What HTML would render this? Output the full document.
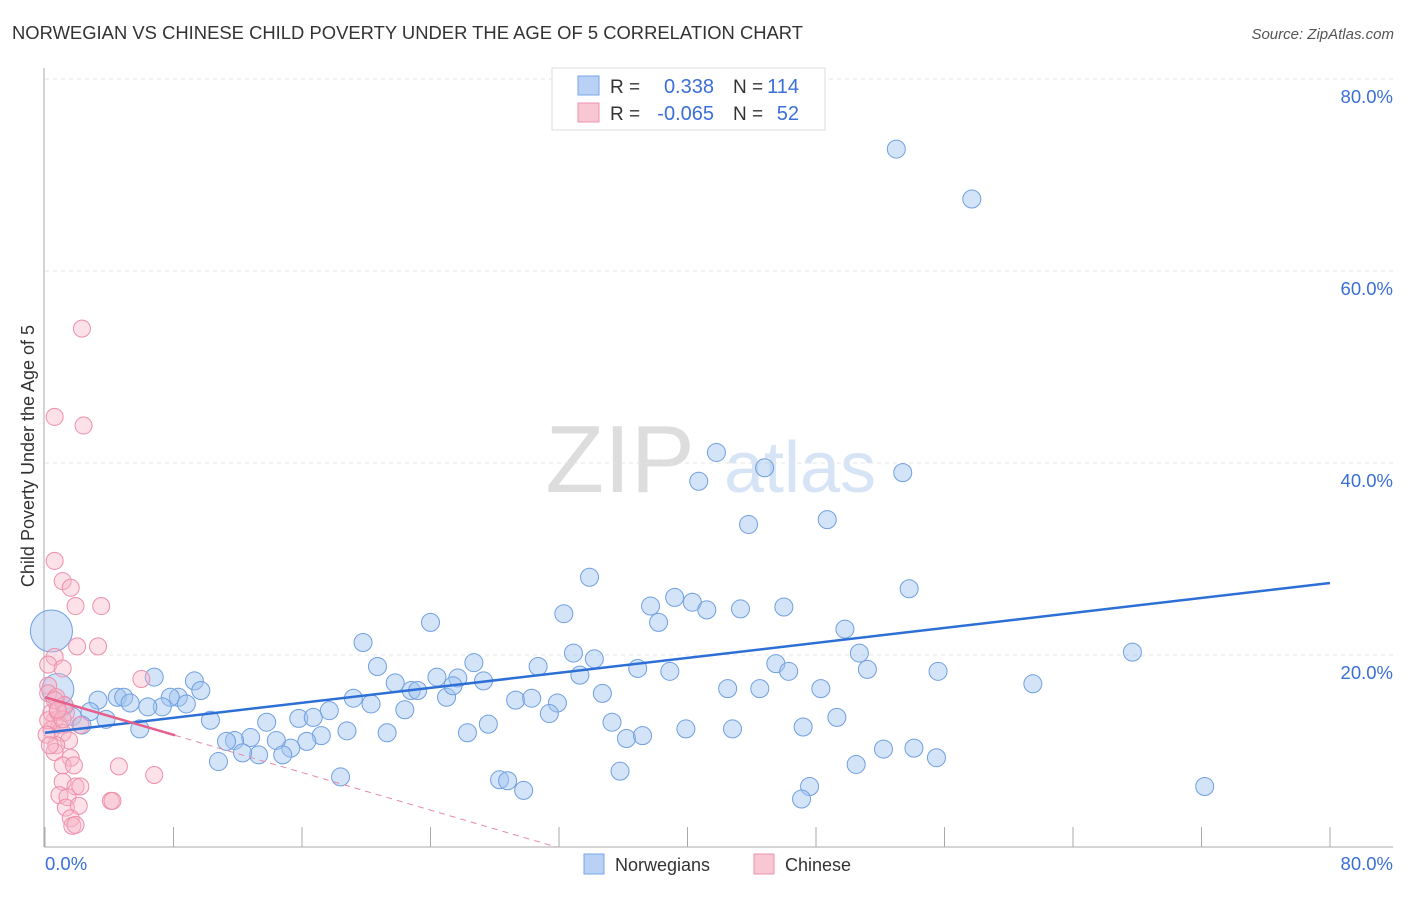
<!DOCTYPE html>
<html><head><meta charset="utf-8"><style>
body{margin:0;background:#fff;font-family:"Liberation Sans",sans-serif;}
svg text{font-family:"Liberation Sans",sans-serif;}
</style></head><body>
<svg id="chart" width="1406" height="892">
<text x="12" y="39" font-size="18.4" fill="#333" textLength="791">NORWEGIAN VS CHINESE CHILD POVERTY UNDER THE AGE OF 5 CORRELATION CHART</text>
<text x="1394" y="39" font-size="15" fill="#555" text-anchor="end" font-style="italic">Source: ZipAtlas.com</text>
<text x="620" y="492" font-size="96" fill="#ddd" font-family="Liberation Serif" text-anchor="middle">ZIP</text>
<text x="800" y="492" font-size="72" fill="#d6e4f5" text-anchor="middle">atlas</text>
<g id="grid"></g><g id="axes"></g><g id="pts"></g><g id="trend"></g>
<text transform="translate(34,456) rotate(-90)" font-size="18" fill="#333" text-anchor="middle">Child Poverty Under the Age of 5</text>
<g>
<rect x="552" y="68" width="273" height="62" fill="#fff" stroke="#ddd"/>
<rect x="578" y="76" width="21" height="19" fill="#b8d1f5" stroke="#7aa6e8"/>
<rect x="578" y="103" width="21" height="19" fill="#f9c6d4" stroke="#ee93ae"/>
<text x="610" y="93" font-size="19" fill="#333">R =</text><text x="714" y="93" font-size="20" fill="#3a6fd8" text-anchor="end">0.338</text>
<text x="733" y="93" font-size="19" fill="#333">N =</text><text x="799" y="93" font-size="20" fill="#3a6fd8" text-anchor="end">114</text>
<text x="610" y="120" font-size="19" fill="#333">R =</text><text x="714" y="120" font-size="20" fill="#3a6fd8" text-anchor="end">-0.065</text>
<text x="733" y="120" font-size="19" fill="#333">N =</text><text x="799" y="120" font-size="20" fill="#3a6fd8" text-anchor="end">52</text>
</g>
<g>
<rect x="584" y="854" width="20" height="20" fill="#b8d1f5" stroke="#7aa6e8"/>
<text x="615" y="871" font-size="18" fill="#333">Norwegians</text>
<rect x="754" y="854" width="20" height="20" fill="#f9c6d4" stroke="#ee93ae"/>
<text x="785" y="871" font-size="18" fill="#333">Chinese</text>
</g>
</svg>
<script>
const blueX=[53.0,57.7,41.8,44.8,53.4,40.7,43.8,48.7,33.9,53.8,37.7,39.2,40.3,41.2,43.3,46.0,38.2,32.3,24.0,49.8,19.8,32.9,34.2,36.9,38.9,45.5,50.7,51.2,55.6,67.7,61.5,20.7,24.4,25.7,26.7,27.3,30.7,33.3,34.7,21.8,22.8,23.2,25.0,25.4,19.2,20.3,22.4,29.3,30.3,31.9,31.4,15.8,16.7,17.7,13.8,10.3,35.3,42.5,44.5,46.3,48.3,49.3,47.2,39.9,42.8,36.2,37.2,27.6,26.3,18.8,21.3,17.2,16.3,15.3,14.4,12.8,11.8,11.3,14.8,13.3,12.3,10.8,18.4,28.3,28.8,29.8,35.8,47.6,47.1,50.5,52.2,54.1,55.5,72.2,6.8,9.3,9.7,8.3,7.8,8.8,7.3,6.4,4.5,4.9,5.3,3.3,2.8,3.8,1.7,2.3,5.9,1.2,0.8,0.4];
const blueY=[72.7,67.5,41.1,39.5,39.0,38.1,33.6,34.1,28.1,26.9,25.1,26.0,25.5,24.7,24.8,25.0,23.4,24.3,23.4,22.7,21.3,20.2,19.6,18.6,18.3,19.1,20.2,18.5,18.3,20.3,17.0,18.8,17.7,17.6,19.2,17.3,18.8,17.9,16.0,17.1,16.3,16.3,15.6,16.8,15.5,14.9,14.3,15.3,15.5,15.0,13.9,13.4,13.5,14.2,13.0,13.2,13.0,16.5,16.5,18.3,16.5,13.5,12.5,12.3,12.3,11.3,11.6,12.8,11.9,12.1,11.9,11.6,11.0,10.3,11.1,11.4,11.1,11.0,9.6,9.6,9.8,8.9,7.3,7.0,6.9,5.9,7.9,6.3,5.0,8.6,10.2,10.3,9.3,6.3,17.7,17.3,16.3,15.6,15.6,14.9,14.6,14.6,15.6,15.6,15.0,15.3,14.1,13.3,13.6,12.7,12.3,14.7,16.4,22.5];
const blueSize=blueX.map((_,i)=>i===blueX.length-1?3:(i===blueX.length-2?2:1));
const pinkX=[2.3,0.6,2.4,0.6,1.1,1.6,1.9,3.5,2.0,3.3,0.6,0.2,1.1,0.2,0.2,0.7,1.2,6.0,0.6,0.9,0.4,1.1,1.5,0.7,0.6,1.6,1.1,1.8,4.6,6.8,1.1,1.9,2.2,0.9,1.4,4.1,4.2,1.3,2.1,1.6,1.7,1.9,0.4,0.2,0.1,0.3,0.8,1.3,1.1,0.6,0.8,2.2];
const pinkY=[54.0,44.8,43.9,29.8,27.7,27.0,25.1,25.1,20.9,20.9,19.8,19.0,18.6,16.8,16.0,15.6,14.8,17.5,13.2,12.7,12.2,11.9,11.1,10.6,9.9,9.3,8.5,8.5,8.4,7.5,6.8,6.3,6.3,5.4,5.2,4.8,4.8,4.1,4.3,3.0,2.2,2.3,14.0,13.2,11.7,10.6,14.1,14.0,13.3,15.3,14.3,12.7];
const blueTrend=[11.9,27.5];
const pinkTrend=[15.6,-0.49];
const yTicks=[20,40,60,80];
const xTickVals=[0,8,16,24,32,40,48,56,64,72,80];

const X=v=>45+v*16.0625, Y=v=>847-v*9.6;
const NS="http://www.w3.org/2000/svg";
function mk(tag,attrs,parent){const e=document.createElementNS(NS,tag);for(const k in attrs)e.setAttribute(k,attrs[k]);document.getElementById(parent).appendChild(e);return e;}
yTicks.forEach(t=>{
 const l=mk('line',{x1:45,x2:1393,y1:Y(t),y2:Y(t),stroke:'#e4e4e4','stroke-dasharray':'4,4'},'grid');
 
 
 const tx=mk('text',{x:1393,y:Y(t)+24,'font-size':18.5,fill:'#3a6fd8','text-anchor':'end'},'grid');
 tx.textContent=t.toFixed(1)+'%';
 
 
});
const ax=mk('line',{x1:44,x2:44,y1:68,y2:847,stroke:'#aaa'},'axes');


const bx=mk('line',{x1:44,x2:1393,y1:847,y2:847,stroke:'#aaa'},'axes');


xTickVals.forEach(t=>{
 const l=mk('line',{x1:X(t),x2:X(t),y1:827,y2:847,stroke:'#aaa'},'axes');
 
 
});
const x0=mk('text',{x:45,y:870,'font-size':18.5,fill:'#3a6fd8'},'axes');x0.textContent='0.0%';


const x1=mk('text',{x:1393,y:870,'font-size':18.5,fill:'#3a6fd8','text-anchor':'end'},'axes');x1.textContent='80.0%';


blueX.forEach((v,i)=>{
 const r=blueSize[i]===3?21:blueSize[i]===2?16:9;
 const c=mk('circle',{cx:X(v),cy:Y(blueY[i]),r:r,fill:'rgba(160,196,240,0.45)',stroke:'#6f9fe0','stroke-width':1},'pts');
 
 
});
pinkX.forEach((v,i)=>{
 const c=mk('circle',{cx:X(v),cy:Y(pinkY[i]),r:8.5,fill:'rgba(248,180,200,0.4)',stroke:'#ee8fab','stroke-width':1},'pts');
 
 
});
const bt=mk('line',{x1:X(0),y1:Y(blueTrend[0]),x2:X(80),y2:Y(blueTrend[1]),stroke:'#2d6fd6','stroke-width':2.5},'trend');


const pe=8.1, pz=-pinkTrend[0]/pinkTrend[1];
const ps=mk('line',{x1:X(0),y1:Y(pinkTrend[0]),x2:X(pe),y2:Y(pinkTrend[0]+pinkTrend[1]*pe),stroke:'#e5608a','stroke-width':2.5},'trend');


const pd=mk('line',{x1:X(pe),y1:Y(pinkTrend[0]+pinkTrend[1]*pe),x2:X(pz),y2:Y(0),stroke:'#e58aa6','stroke-width':1,'stroke-dasharray':'6,5'},'trend');


</script>
</body></html>
